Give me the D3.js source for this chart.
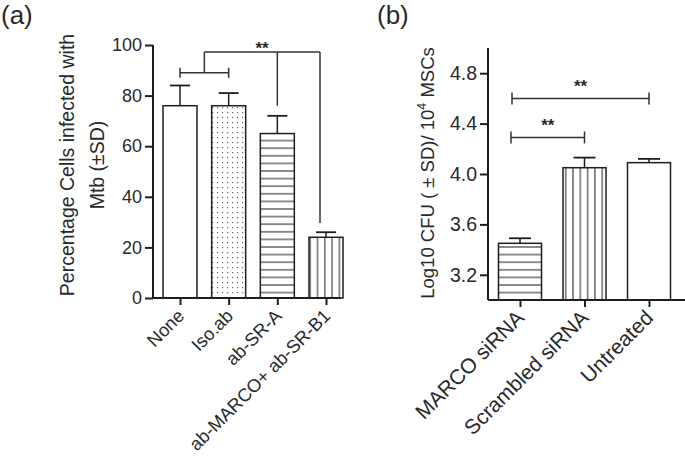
<!DOCTYPE html>
<html>
<head>
<meta charset="utf-8">
<script src="https://cdn.jsdelivr.net/npm/d3@7"></script>
<style>
  body { margin: 0; background: #fff; }
  text { font-family: "Liberation Sans", Arial, sans-serif; fill: #2a2a2a; }
</style>
</head>
<body>
<svg id="chart" width="685" height="459"></svg>
<script>
// Dati pannello (a)
var catA = ["None", "Iso.ab", "ab-SR-A", "ab-MARCO+ ab-SR-B1"];
var meanA = [76, 76, 65, 24];
var sdA = [8, 5, 7, 2];
var ticksA = [0, 20, 40, 60, 80, 100];
var fillA = ["white", "url(#dots)", "url(#hlines)", "url(#vlines)"];

// Dati pannello (b)
var catB = ["MARCO siRNA", "Scrambled siRNA", "Untreated"];
var meanB = [3.45, 4.05, 4.09];
var sdB = [0.04, 0.08, 0.03];
var ticksB = [3.2, 3.6, 4.0, 4.4, 4.8];
var fillB = ["url(#hlines)", "url(#vlines)", "white"];

var ink = "#1e1e1e";
var svg = d3.select("#chart");

// Pattern di riempimento
var defs = svg.append("defs");
var p1 = defs.append("pattern").attr("id", "dots").attr("patternUnits", "userSpaceOnUse")
  .attr("width", 5).attr("height", 5);
p1.append("rect").attr("width", 5).attr("height", 5).attr("fill", "white");
p1.append("rect").attr("x", 2).attr("y", 2).attr("width", 1.2).attr("height", 1.2).attr("fill", "#666");
var p2 = defs.append("pattern").attr("id", "hlines").attr("patternUnits", "userSpaceOnUse")
  .attr("width", 8).attr("height", 7.6);
p2.append("rect").attr("width", 8).attr("height", 7.6).attr("fill", "white");
p2.append("line").attr("x1", 0).attr("x2", 8).attr("y1", 3.8).attr("y2", 3.8)
  .attr("stroke", "#444").attr("stroke-width", 1.2);
var p3 = defs.append("pattern").attr("id", "vlines").attr("patternUnits", "userSpaceOnUse")
  .attr("width", 7.3).attr("height", 8);
p3.append("rect").attr("width", 7.3).attr("height", 8).attr("fill", "white");
p3.append("line").attr("y1", 0).attr("y2", 8).attr("x1", 3.6).attr("x2", 3.6)
  .attr("stroke", "#444").attr("stroke-width", 1.2);

// Funzione che disegna un pannello
function drawPanel(o) {
  var g = svg.append("g");
  var x = d3.scalePoint().domain(o.cats).range(o.xr);
  var y = d3.scaleLinear().domain(o.dom).range([o.y0, o.y1]);

  // barre
  g.selectAll("rect.bar").data(o.cats).enter().append("rect")
    .attr("x", function(d) { return x(d) - o.bw / 2; })
    .attr("y", function(d, i) { return y(o.mean[i]); })
    .attr("width", o.bw)
    .attr("height", function(d, i) { return o.y0 - y(o.mean[i]); })
    .attr("fill", function(d, i) { return o.fill[i]; })
    .attr("stroke", ink).attr("stroke-width", 1.5);

  // barre di errore (solo verso l'alto)
  o.cats.forEach(function(d, i) {
    var cx = x(d);
    g.append("line").attr("x1", cx).attr("x2", cx)
      .attr("y1", y(o.mean[i])).attr("y2", y(o.mean[i] + o.sd[i]))
      .attr("stroke", ink).attr("stroke-width", 1.5);
    g.append("line").attr("x1", cx - o.cap).attr("x2", cx + o.cap)
      .attr("y1", y(o.mean[i] + o.sd[i])).attr("y2", y(o.mean[i] + o.sd[i]))
      .attr("stroke", ink).attr("stroke-width", 1.8);
  });

  // asse y
  var ay = g.append("g").attr("transform", "translate(" + o.ax + ",0)")
    .call(d3.axisLeft(y).tickValues(o.ticks).tickSize(8).tickPadding(3)
      .tickFormat(o.fmt).tickSizeOuter(0));
  ay.select(".domain").attr("d", "M0," + o.y0 + "V" + y(o.dom[1])).attr("stroke", ink).attr("stroke-width", 2);
  ay.selectAll(".tick line").attr("stroke", ink).attr("stroke-width", 2);
  ay.selectAll(".tick text").style("font-size", o.yfs + "px").style("font-family", "Liberation Sans, Arial")
    .attr("fill", "#2a2a2a");

  // asse x
  var ax = g.append("g").attr("transform", "translate(0," + o.y0 + ")")
    .call(d3.axisBottom(x).tickSize(7).tickSizeOuter(0));
  ax.select(".domain").attr("d", "M" + o.ax + ",0H" + o.xEnd).attr("stroke", ink).attr("stroke-width", 2);
  ax.selectAll(".tick line").attr("stroke", ink).attr("stroke-width", 2);
  ax.selectAll(".tick text")
    .style("font-size", o.xfs + "px").style("font-family", "Liberation Sans, Arial").attr("fill", "#2a2a2a")
    .attr("text-anchor", "end").attr("dy", null).attr("y", 0)
    .attr("transform", "translate(5,19) rotate(-45)");

  // titolo asse y
  var t = g.append("text").attr("text-anchor", "middle")
    .attr("transform", "translate(" + o.tx + "," + o.ty + ") rotate(-90)")
    .style("font-size", o.tfs + "px");
  o.title(t);

  // etichetta pannello
  g.append("text").attr("x", o.lx).attr("y", 24).style("font-size", "26px").text(o.label);

  return {g: g, x: x, y: y};
}

// Pannello (a)
var A = drawPanel({
  cats: catA, mean: meanA, sd: sdA, fill: fillA, ticks: ticksA,
  xr: [180, 326], bw: 34, cap: 10, dom: [0, 100], y0: 298, y1: 45,
  ax: 153, xEnd: 341, fmt: d3.format("d"), yfs: 18, xfs: 18.3,
  tx: 74, ty: 165, tfs: 19.5, lx: 1, label: "(a)",
  title: function(t) {
    t.append("tspan").attr("x", 0).attr("y", 0).text("Percentage Cells infected with");
    t.append("tspan").attr("x", 0).attr("y", 30).text("Mtb (\u00b1SD)");
  }
});

// Significativita' pannello (a)
var xa = A.x, ya = A.y;
var lowY = 89, topY = 97.2;
var mid01 = (xa(catA[0]) + xa(catA[1])) / 2;
var right3 = xa(catA[3]) - 6;
function seg(g, x1, y1, x2, y2) {
  g.append("line").attr("x1", x1).attr("y1", y1).attr("x2", x2).attr("y2", y2)
    .attr("stroke", "#333").attr("stroke-width", 1.5);
}
seg(A.g, xa(catA[0]), ya(lowY), xa(catA[1]), ya(lowY));
seg(A.g, xa(catA[0]), ya(lowY) - 5, xa(catA[0]), ya(lowY) + 5);
seg(A.g, xa(catA[1]), ya(lowY) - 5, xa(catA[1]), ya(lowY) + 5);
seg(A.g, mid01, ya(lowY), mid01, ya(topY));
seg(A.g, mid01, ya(topY), right3, ya(topY));
seg(A.g, xa(catA[2]), ya(topY), xa(catA[2]), ya(76));
seg(A.g, right3, ya(topY), right3, ya(29.6));
A.g.append("text").attr("x", 262).attr("y", ya(topY) + 2).attr("text-anchor", "middle")
  .style("font-size", "17px").style("font-weight", "bold").text("**");

// Pannello (b)
var B = drawPanel({
  cats: catB, mean: meanB, sd: sdB, fill: fillB, ticks: ticksB,
  xr: [520, 649], bw: 43, cap: 11, dom: [3.0, 5.0], y0: 300, y1: 48,
  ax: 488, xEnd: 685, fmt: d3.format(".1f"), yfs: 19.5, xfs: 21,
  tx: 434, ty: 173, tfs: 18.5, lx: 377, label: "(b)",
  title: function(t) {
    t.append("tspan").text("Log10 CFU ( \u00b1 SD)/ 10");
    t.append("tspan").attr("dy", -8).style("font-size", "12.5px").text("4");
    t.append("tspan").attr("dy", 8).text(" MSCs");
  }
});

// Significativita' pannello (b)
var xb = B.x, yb = B.y;
function bracket(g, x1, x2, yy, label) {
  seg(g, x1, yy, x2, yy);
  seg(g, x1, yy - 6, x1, yy + 6);
  seg(g, x2, yy - 6, x2, yy + 6);
  g.append("text").attr("x", (x1 + x2) / 2).attr("y", yy - 6).attr("text-anchor", "middle")
    .style("font-size", "17px").style("font-weight", "bold").text(label);
}
bracket(B.g, xb(catB[0]) - 9, xb(catB[1]), yb(4.29), "**");
bracket(B.g, xb(catB[0]) - 8, xb(catB[2]), yb(4.60), "**");
</script>
</body>
</html>
